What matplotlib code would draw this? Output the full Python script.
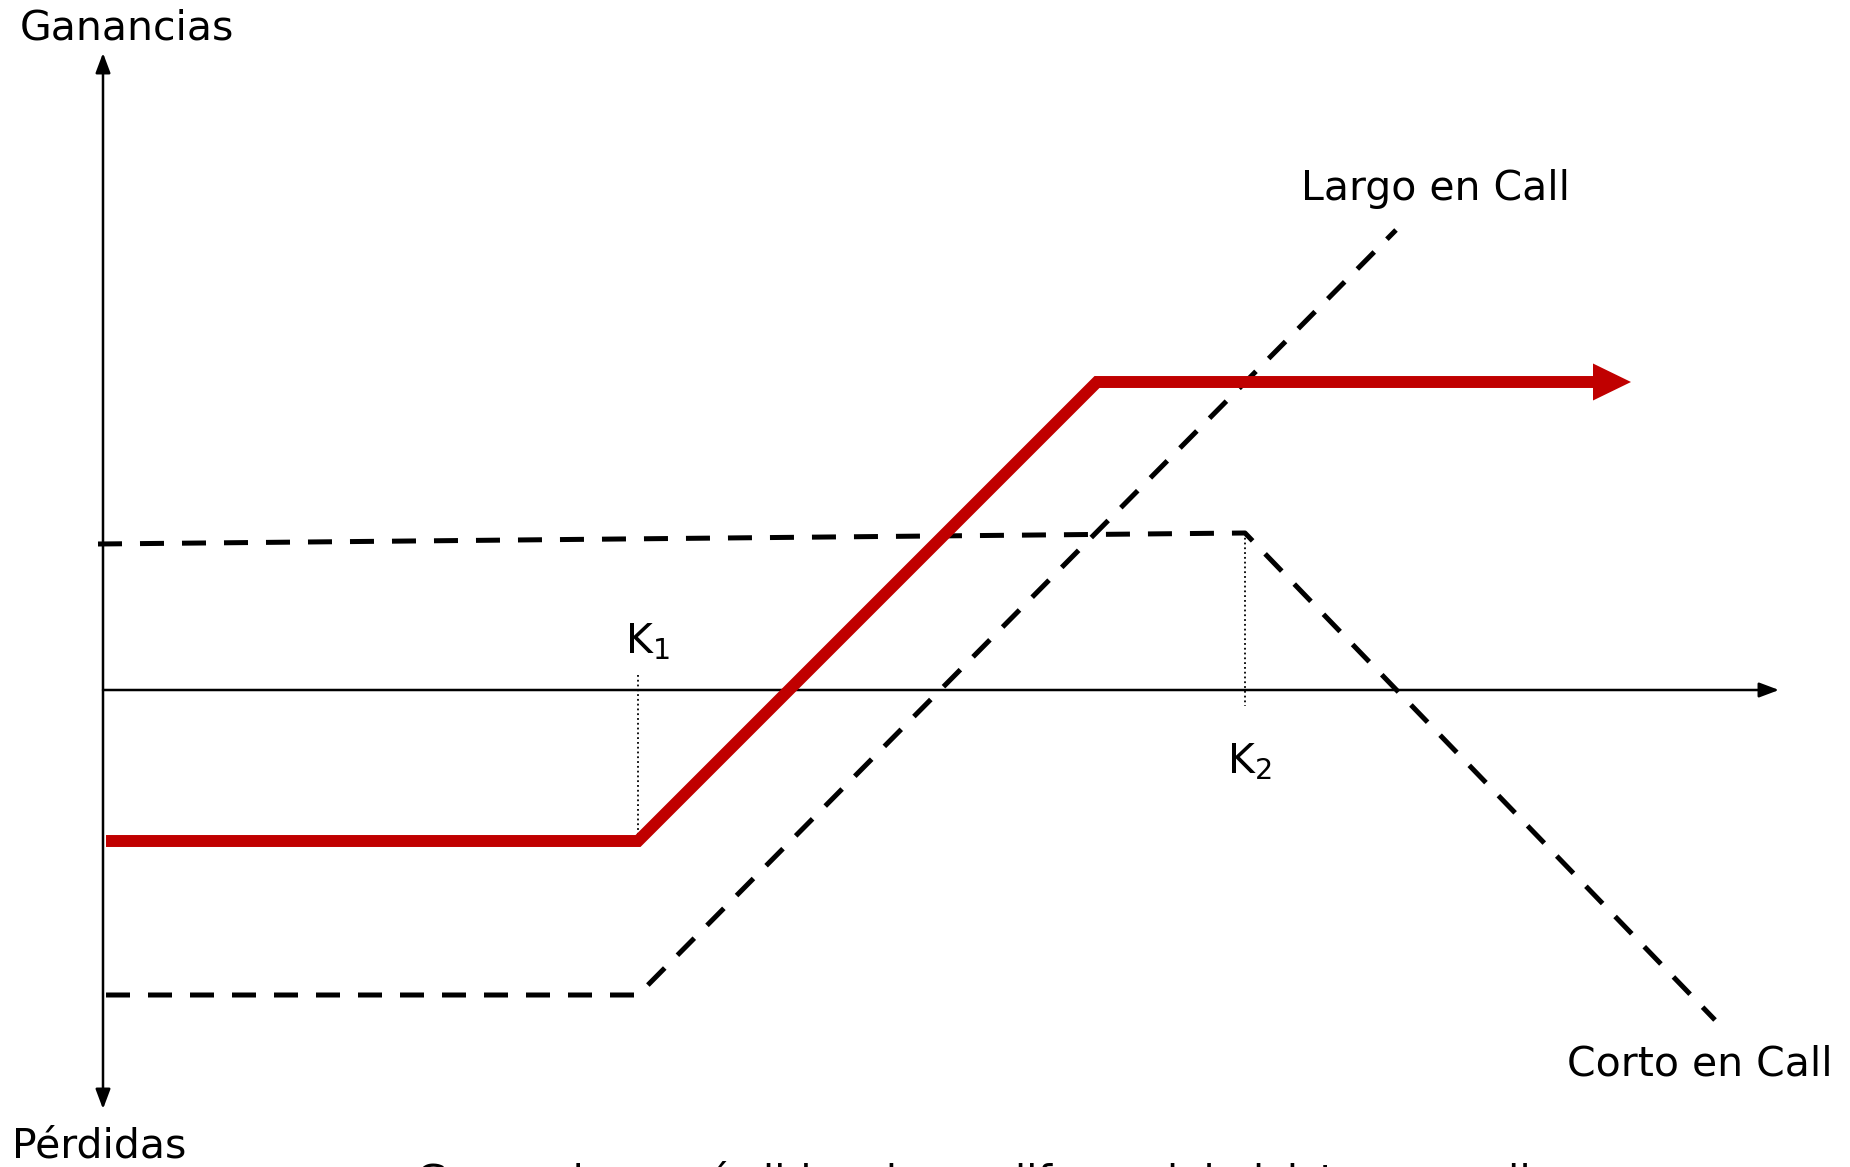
import matplotlib
matplotlib.use("Agg")
import matplotlib.pyplot as plt

# payoff diagram: bull spread with calls (values in chart units, origin = axes cross)
spread_x = [0.03, 5.35, 9.94, 15.28]
spread_y = [-1.51, -1.51, 3.08, 3.08]

long_call_x = [0.03, 5.35, 12.93]
long_call_y = [-3.05, -3.05, 4.60]

short_call_x = [-0.05, 11.42, 16.12]
short_call_y = [1.46, 1.57, -3.30]

strikes = [5.35, 11.42]
strike_labels = ["K$_1$", "K$_2$"]
line_labels = ["Largo en Call", "Corto en Call"]
axis_labels = ["Ganancias", "Pérdidas"]
bottom_title = "Ganancias y pérdidas de un diferencial alcista con calls"

RED = "#C00000"
FS = 29.5

plt.rcParams["font.family"] = ["DejaVu Sans"]
plt.rcParams["mathtext.fontset"] = "dejavusans"
plt.rcParams["mathtext.default"] = "regular"

fig = plt.figure(figsize=(18.5, 11.67), dpi=100)
ax = fig.add_axes([0, 0, 1, 1])
ax.set_xlim(-1.03, 17.47)
ax.set_ylim(-4.77, 6.90)
ax.axis("off")

# axes with arrows
axis_arrow = "-|>,head_length=0.8,head_width=0.3"
ax.annotate("", xy=(0, 6.37), xytext=(0, -4.19),
            arrowprops=dict(arrowstyle="<|-|>,head_length=0.8,head_width=0.3",
                            color="black", lw=1.8, shrinkA=0, shrinkB=0,
                            mutation_scale=15))
ax.annotate("", xy=(16.76, 0), xytext=(0, 0),
            arrowprops=dict(arrowstyle=axis_arrow, color="black", lw=1.8,
                            shrinkA=0, shrinkB=0, mutation_scale=15))

# dashed single legs
ax.plot(long_call_x, long_call_y, color="black", lw=3.6, dashes=(4.8, 3.6),
        zorder=3)
ax.plot(short_call_x, short_call_y, color="black", lw=3.6, dashes=(4.8, 3.6),
        zorder=3)

# dotted strike guides
ax.plot([strikes[0], strikes[0]], [0.15, spread_y[0]], color="black", lw=1.3,
        ls=":", zorder=2)
ax.plot([strikes[1], strikes[1]], [short_call_y[1], -0.16], color="black",
        lw=1.3, ls=":", zorder=2)

# red spread with arrow head
head_len = 0.38
ax.plot(spread_x[:-1] + [spread_x[-1] - head_len], spread_y, color=RED, lw=8.6,
        solid_joinstyle="miter", solid_capstyle="butt", zorder=4)
ax.arrow(spread_x[-1] - head_len, spread_y[-1], head_len, 0, width=0.001,
         head_width=0.37, head_length=head_len, length_includes_head=True,
         color=RED, lw=0, zorder=5)

# labels
ax.text(-0.83, 6.62, axis_labels[0], fontsize=FS, ha="left", va="center")
ax.text(-0.91, -4.68, axis_labels[1], fontsize=FS, ha="left", va="baseline")
ax.text(11.98, 4.90, line_labels[0], fontsize=FS, ha="left", va="baseline")
ax.text(14.64, -3.86, line_labels[1], fontsize=FS, ha="left", va="baseline")
ax.text(5.22, 0.37, strike_labels[0], fontsize=FS, ha="left", va="baseline")
ax.text(11.24, -0.83, strike_labels[1], fontsize=FS, ha="left", va="baseline")
# caption below the frame, only its top edge shows as in the original slide
ax.text(3.13, -5.04, bottom_title, fontsize=FS, ha="left", va="baseline")

fig.savefig("out.png", dpi=100)
